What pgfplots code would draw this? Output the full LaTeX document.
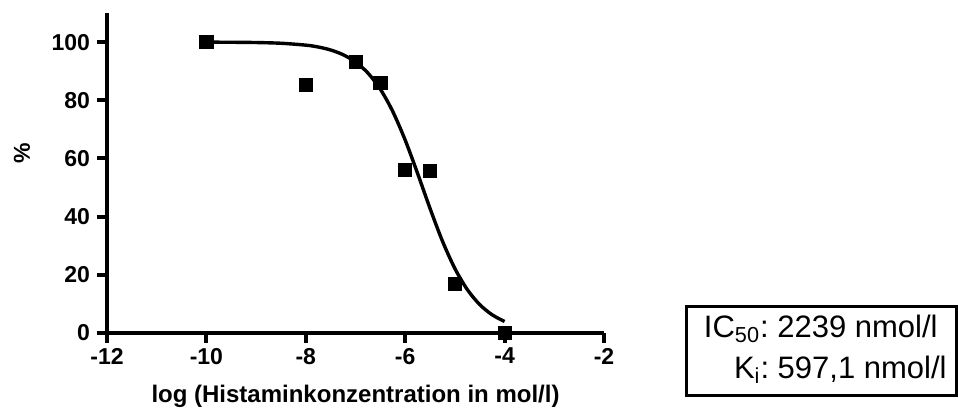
\documentclass[border=0pt]{standalone}
\usepackage{fontspec}
\setmainfont{Liberation Sans}
\usepackage{pgfplots}
\pgfplotsset{compat=1.18}
\frenchspacing

\newcommand{\ticklab}{\fontsize{11.5}{13}\selectfont\bfseries}

\begin{document}
\begin{tikzpicture}[x=1pt,y=1pt]
\begin{axis}[
    at={(0,0)}, anchor=south west,
    scale only axis,
    width=248.5pt, height=160pt,
    xmin=-12, xmax=-2,
    ymin=0, ymax=110,
    xtick={-12,-10,-8,-6,-4,-2},
    ytick={0,20,40,60,80,100},
    axis lines=left,
    axis line style={-, line width=2pt},
    tick align=outside,
    major tick length=5pt,
    every tick/.style={black, line width=2pt},
    /pgf/number format/assume math mode=true,
    xticklabel={\ticklab\pgfmathprintnumber{\tick}},
    yticklabel={\ticklab\pgfmathprintnumber{\tick}},
    xticklabel style={yshift=1pt},
    xlabel={log (Histaminkonzentration in mol/l)},
    ylabel={\%},
    xlabel style={at={(axis description cs:0.5,0)}, anchor=base, yshift=-34.5pt, font=\fontsize{12}{14}\selectfont\bfseries},
    ylabel style={at={(axis description cs:0,0.5625)}, anchor=center, rotate=0, yshift=42.5pt, font=\fontsize{11.5}{13}\selectfont\bfseries},
    clip=false,
]
% fitted curve
\addplot[black, line width=1.7pt, smooth, no marks] coordinates {
    (-10,99.98) (-9.5,99.94) (-9,99.85) (-8.5,99.60) (-8,98.95) (-7.75,98.31)
    (-7.5,97.28) (-7.25,95.67) (-7,93.16) (-6.75,89.36) (-6.5,83.81) (-6.25,76.14)
    (-6,66.30) (-5.75,54.82) (-5.5,42.80) (-5.25,31.57) (-5,22.15) (-4.75,14.92)
    (-4.5,9.76) (-4.25,6.25) (-4,3.95)
};
% measured points
\addplot[only marks, mark=square*, mark size=3.3pt, black] coordinates {
    (-10,100) (-8,85.2) (-7,93.2) (-6.5,86.1) (-6,56.2) (-5.5,55.8) (-5,17.0) (-4,0)
};
\end{axis}
\draw[line width=1.5pt] (289.75,13.25) rectangle (424.75,-31.25);
\node[anchor=base east, inner sep=0pt, font=\fontsize{15.5}{17}\selectfont] at (415.5,-2) {IC\textsubscript{50}: 2239 nmol/l};
\node[anchor=base east, inner sep=0pt, font=\fontsize{15.5}{17}\selectfont] at (420,-22.5) {K\textsubscript{i}: 597,1 nmol/l};
\pgfresetboundingbox
\path[use as bounding box] (-53.5,-37) rectangle (425.5,166.5);
\end{tikzpicture}
\end{document}
